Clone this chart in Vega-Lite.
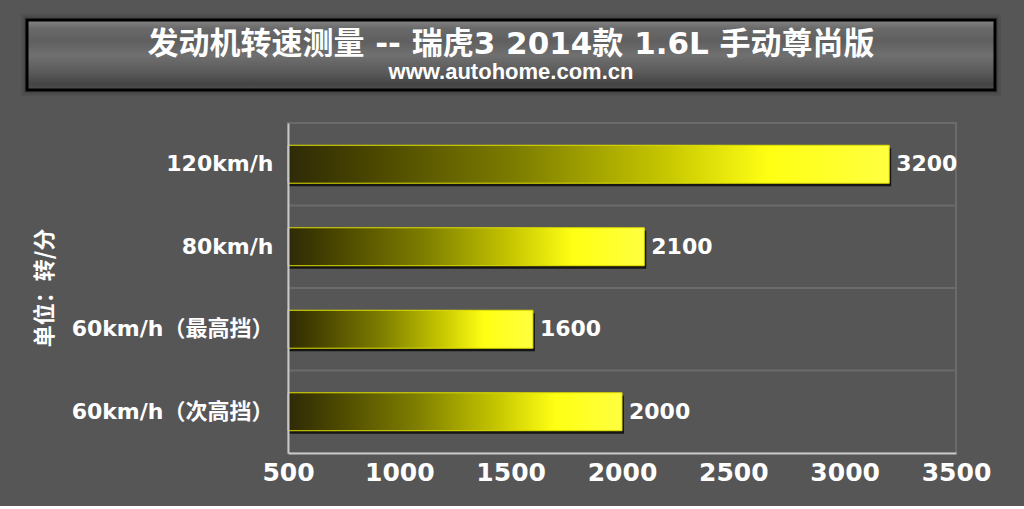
{
  "$schema": "https://vega.github.io/schema/vega-lite/v6.json",
  "background": "#565656",
  "padding": {"left": 21, "top": 14, "right": 23, "bottom": 20},
  "autosize": {"type": "pad"},
  "config": {"view": {"stroke": null}},
  "datasets": {
    "rpm": [
      {"speed": "120km/h", "rpm": 3200},
      {"speed": "80km/h", "rpm": 2100},
      {"speed": "60km/h（最高挡）", "rpm": 1600},
      {"speed": "60km/h（次高挡）", "rpm": 2000}
    ],
    "head": [
      {"title": "发动机转速测量 -- 瑞虎3 2014款 1.6L 手动尊尚版", "sub": "www.autohome.com.cn"}
    ],
    "unit": [{"label": "单位：转/分"}]
  },
  "spacing": 25,
  "vconcat": [
    {
      "width": 968,
      "height": 70,
      "data": {"name": "head"},
      "layer": [
        {
          "mark": {"type": "rect", "fill": null, "stroke": "#000000", "strokeWidth": 12, "strokeOpacity": 0.06},
          "encoding": {}
        },
        {
          "mark": {"type": "rect", "fill": null, "stroke": "#000000", "strokeWidth": 7, "strokeOpacity": 0.12},
          "encoding": {}
        },
        {
          "mark": {
            "type": "rect",
            "fill": {
              "gradient": "linear", "x1": 0, "y1": 0, "x2": 0, "y2": 1,
              "stops": [
                {"offset": 0, "color": "#858585"},
                {"offset": 0.12, "color": "#6a6a6a"},
                {"offset": 0.3, "color": "#5f5f5f"},
                {"offset": 0.5, "color": "#707070"},
                {"offset": 0.75, "color": "#5a5a5a"},
                {"offset": 0.92, "color": "#444444"},
                {"offset": 1, "color": "#505050"}
              ]
            },
            "stroke": "#000000",
            "strokeWidth": 3
          },
          "encoding": {}
        },
        {
          "mark": {"type": "text", "dy": -10, "font": "DejaVu Sans, Noto Sans CJK SC", "fontSize": 31, "fontWeight": "bold", "fill": "#ffffff"},
          "encoding": {"text": {"field": "title"}}
        },
        {
          "mark": {"type": "text", "dy": 17, "font": "Liberation Sans", "fontSize": 22, "fontWeight": "bold", "fill": "#ffffff"},
          "encoding": {"text": {"field": "sub"}}
        }
      ]
    },
    {
      "spacing": 7,
      "hconcat": [
        {
          "width": 36,
          "height": 330,
          "data": {"name": "unit"},
          "mark": {"type": "text", "angle": 270, "font": "Noto Sans CJK SC", "fontSize": 22, "fontWeight": "bold", "fill": "#ffffff"},
          "encoding": {"text": {"field": "label"}}
        },
        {
          "width": 668,
          "height": 330,
          "data": {"name": "rpm"},
          "view": {"stroke": "#6b6b6b", "strokeWidth": 2},
          "encoding": {
            "y": {
              "field": "speed",
              "type": "nominal",
              "sort": null,
              "scale": {"paddingInner": 0, "paddingOuter": 0},
              "axis": {
                "title": null,
                "ticks": false,
                "grid": false,
                "domainColor": "#c8c8c8",
                "domainWidth": 2,
                "labelColor": "#ffffff",
                "labelFont": "DejaVu Sans, Noto Sans CJK SC",
                "labelFontWeight": "bold",
                "labelFontSize": 22,
                "labelPadding": 15,
                "labelLimit": 400,
                "zindex": 1
              }
            }
          },
          "layer": [
            {
              "mark": {"type": "rule", "color": "#6b6b6b", "strokeWidth": 2},
              "encoding": {"y": {"field": "speed", "type": "nominal", "sort": null, "bandPosition": 0}}
            },
            {
              "mark": {"type": "bar", "fill": "#000000", "fillOpacity": 0.75, "xOffset": 2, "yOffset": 3, "height": {"band": 0.46}},
              "encoding": {
                "x": {"field": "rpm", "type": "quantitative"},
                "x2": {"datum": 500}
              }
            },
            {
              "mark": {
                "type": "bar",
                "height": {"band": 0.46},
                "fill": {
                  "gradient": "linear", "x1": 0, "y1": 0, "x2": 1, "y2": 0,
                  "stops": [
                    {"offset": 0, "color": "#2e2a08"},
                    {"offset": 0.12, "color": "#464200"},
                    {"offset": 0.38, "color": "#7d7d00"},
                    {"offset": 0.62, "color": "#c4c400"},
                    {"offset": 0.8, "color": "#ffff14"},
                    {"offset": 1, "color": "#ffff40"}
                  ]
                },
                "stroke": "#e0e000",
                "strokeWidth": 1
              },
              "encoding": {
                "x": {
                  "field": "rpm",
                  "type": "quantitative",
                  "scale": {"domain": [500, 3500], "zero": false, "nice": false},
                  "axis": {
                    "title": null,
                    "values": [500, 1000, 1500, 2000, 2500, 3000, 3500],
                    "format": "d",
                    "grid": false,
                    "ticks": false,
                    "domainColor": "#c8c8c8",
                    "domainWidth": 2,
                    "labelColor": "#ffffff",
                    "labelFont": "DejaVu Sans",
                    "labelFontWeight": "bold",
                    "labelFontSize": 25,
                    "labelPadding": 7,
                    "labelFlush": false,
                    "labelOverlap": false,
                    "zindex": 1
                  }
                },
                "x2": {"datum": 500}
              }
            },
            {
              "mark": {"type": "text", "align": "left", "baseline": "middle", "dx": 7, "font": "DejaVu Sans", "fontSize": 22, "fontWeight": "bold", "fill": "#ffffff"},
              "encoding": {
                "x": {"field": "rpm", "type": "quantitative"},
                "text": {"field": "rpm", "type": "quantitative", "format": "d"}
              }
            }
          ]
        }
      ]
    }
  ]
}
